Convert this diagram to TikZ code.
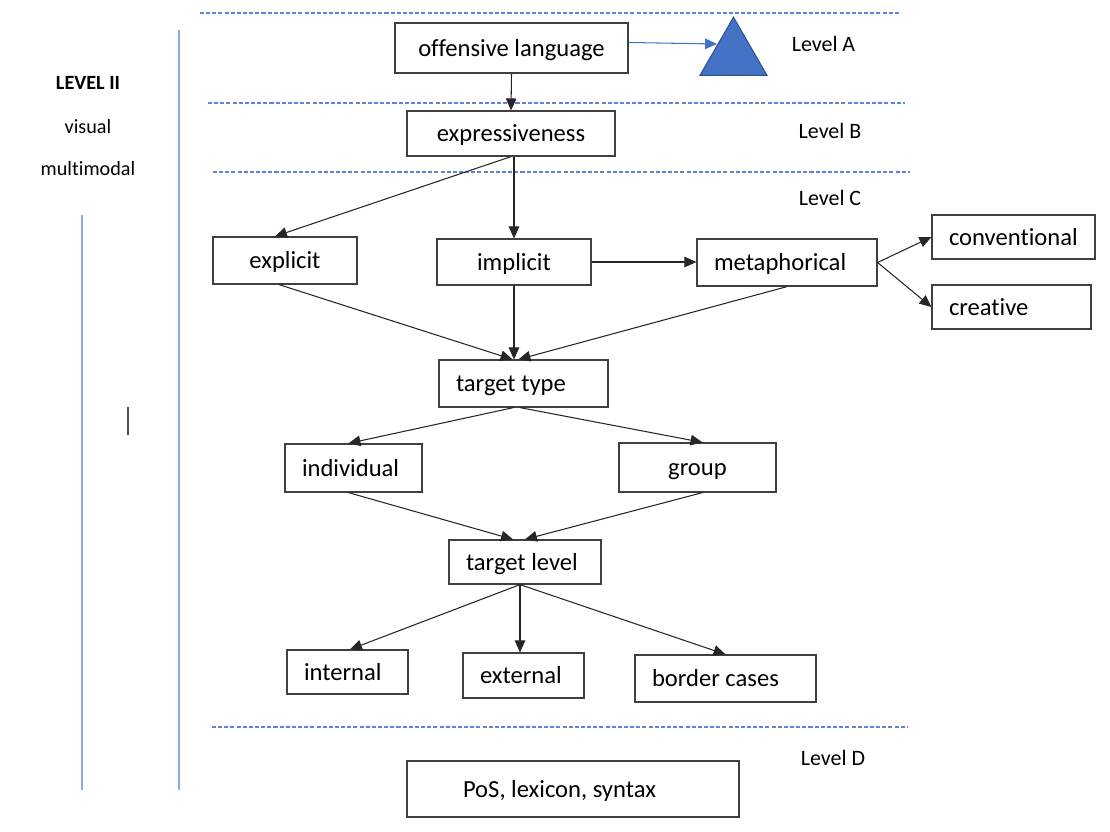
\documentclass[tikz,border=0pt]{standalone}
\usepackage{fontspec}
\setmainfont{Carlito}[Ligatures=NoCommon]
\usetikzlibrary{arrows.meta,shapes.geometric}
\definecolor{wordblue}{HTML}{4472C4}
\definecolor{wordblueline}{HTML}{2F528F}
\definecolor{sideblue}{HTML}{8FAADC}
\definecolor{dashblue}{HTML}{5B85D0}

\begin{document}
\begin{tikzpicture}[
  x=0.02cm,y=-0.02cm,
  box/.style={draw=black!75,line width=0.7pt,inner xsep=0.34cm,inner ysep=0pt,text height=12pt,text depth=2.8pt,font=\fontsize{14}{16}\selectfont,align=flush left},
  cbox/.style={box,align=flush center},
  lvl/.style={font=\fontsize{12.5}{15}\selectfont,inner sep=0pt},
  side/.style={font=\fontsize{11.5}{14}\selectfont,inner sep=0pt},
  levelline/.style={dashblue,dash pattern=on 2.3pt off 1.2pt,line width=0.6pt},
  arr/.style={->,line width=0.6pt,black!85},
  >={Triangle[length=6.8pt,width=6pt]}]
  \useasboundingbox (0,0) rectangle (1110,832);
  % level separators
  \foreach \yy/\xa/\xb in {13/200/900,103/208/905,172/213/910,727/212/908}
    \draw[levelline] (\xa,\yy) -- (\xb,\yy);
  \draw[sideblue,line width=0.8pt] (179,30) -- (179,790);
  \draw[sideblue,line width=0.8pt] (82,215) -- (82,790);
  \draw[black!70,line width=0.8pt] (128,407) -- (128,435);
  \node (lv2) [side,font=\fontsize{11.5}{14}\selectfont\bfseries] at (88,83) {LEVEL II};
  \node (vis) [side] at (88,127) {visual};
  \node (mm) [side] at (88,169) {multimodal};
  \node (la) [lvl] at (823.5,44) {Level A};
  \node (lb) [lvl] at (830,131) {Level B};
  \node (lc) [lvl] at (830,198) {Level C};
  \node (ld) [lvl] at (833,758) {Level D};
  % boxes
  \node (off) [cbox,text width=3.98cm,minimum height=1.0cm] at (511.5,48) {offensive language};
  \node (tri) [regular polygon,regular polygon sides=3,minimum size=1.55cm,inner sep=0pt,fill=wordblue,draw=wordblueline,line width=0.6pt] at (733.5,56) {};
  \coordinate (triin) at (717,44);
  \node (expr) [cbox,text width=3.48cm,minimum height=0.9cm] at (511,133.5) {expressiveness};
  \node (expl) [cbox,text width=2.2cm,minimum height=0.94cm] at (285,260.5) {explicit};
  \node (impl) [cbox,text width=2.4cm,minimum height=0.92cm] at (514,262) {implicit};
  \node (meta) [box,text width=2.92cm,minimum height=0.94cm] at (787,262.5) {metaphorical};
  \node (conv) [box,text width=2.58cm,minimum height=0.88cm] at (1013.5,237) {conventional};
  \node (crea) [box,text width=2.5cm,minimum height=0.88cm] at (1011.5,307) {creative};
  \node (tt) [box,text width=2.7cm,minimum height=0.94cm] at (523.5,383.5) {target type};
  \node (indiv) [box,text width=2.06cm,minimum height=0.96cm] at (353.5,468) {individual};
  \node (grp) [cbox,text width=2.46cm,minimum height=0.98cm] at (697.5,467.5) {group};
  \node (tl) [box,text width=2.36cm,minimum height=0.88cm] at (525,562) {target level};
  \node (intl) [box,text width=1.74cm,minimum height=0.88cm] at (347.5,672) {internal};
  \node (extl) [box,text width=1.74cm,minimum height=0.9cm] at (523.5,675.5) {external};
  \node (bord) [box,text width=2.94cm,minimum height=0.94cm] at (725.5,678.5) {border cases};
  \node (pos) [box,inner xsep=1.12cm,text width=4.4cm,minimum height=1.12cm] at (573,789) {PoS, lexicon, syntax};
  % connectors
  \draw[->,wordblue,line width=0.6pt] ([yshift=0.11cm]off.east) -- (triin);
  \draw[arr] (off.south) -- (expr.north);
  \draw[arr] (expr.south) -- ([xshift=-0.2cm]expl.north);
  \draw[arr] (impl.north |- expr.south) -- (impl.north);
  \draw[arr] (impl.east) -- (impl.east -| meta.west);
  \draw[arr] (meta.east) -- (conv.west);
  \draw[arr] (meta.east) -- (crea.west);
  \draw[arr] ([xshift=-0.12cm]expl.south) -- ([xshift=-0.22cm]tt.north);
  \draw[arr] (impl.south) -- (impl.south |- tt.north);
  \draw[arr] (meta.south) -- ([xshift=-0.1cm]tt.north);
  \draw[arr] ([xshift=-0.2cm]tt.south) -- ([xshift=-0.1cm]indiv.north);
  \draw[arr] ([xshift=-0.07cm]tt.south) -- ([xshift=0.1cm]grp.north);
  \draw[arr] ([xshift=-0.1cm]indiv.south) -- ([xshift=-0.24cm]tl.north);
  \draw[arr] ([xshift=0.1cm]grp.south) -- (tl.north);
  \draw[arr] ([xshift=-0.1cm]tl.south) -- ([xshift=0.05cm]intl.north);
  \draw[arr] ([xshift=-0.1cm]tl.south) -- ([xshift=-0.1cm]tl.south |- extl.north);
  \draw[arr] ([xshift=-0.1cm]tl.south) -- (bord.north);
\end{tikzpicture}
\end{document}
